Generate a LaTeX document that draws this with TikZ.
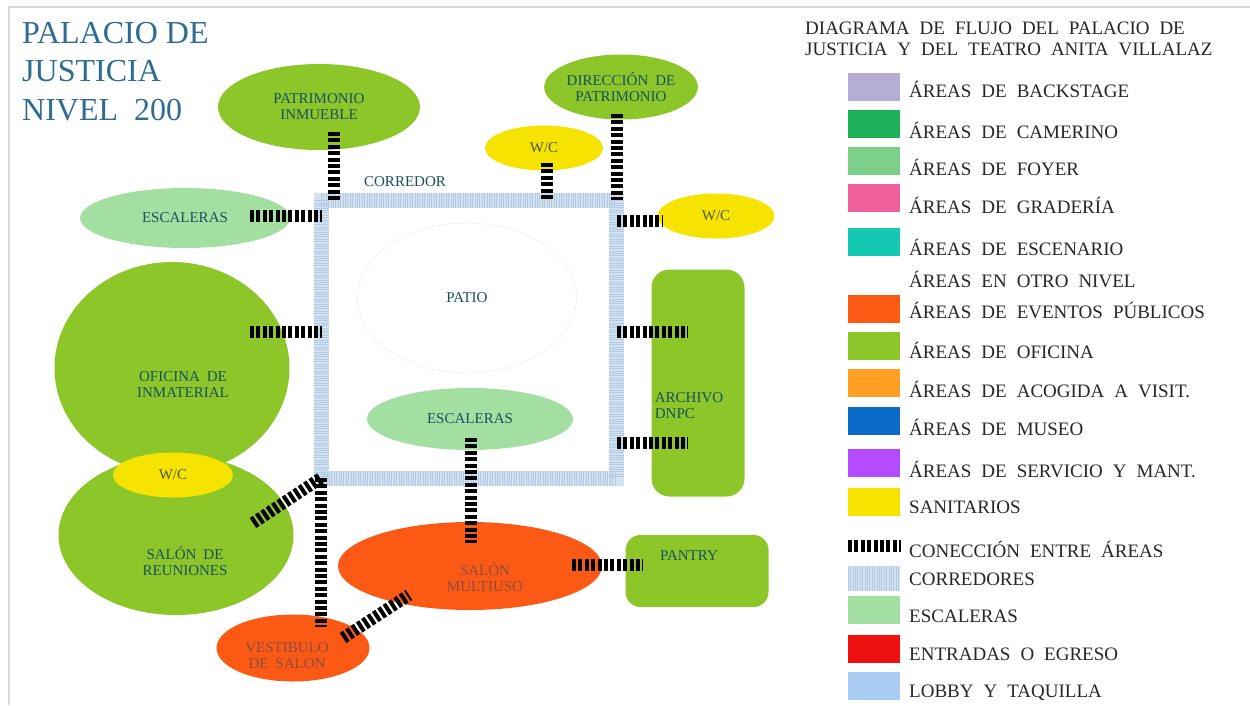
\documentclass[tikz,border=0pt]{standalone}
\usepackage{fontspec}
\setmainfont{Liberation Serif}
\usepackage{tikz}
\usetikzlibrary{shapes.geometric, positioning, calc}

\definecolor{oficina}{RGB}{141,198,40}
\definecolor{escalera}{RGB}{164,223,162}
\definecolor{sanitario}{RGB}{246,228,0}
\definecolor{evento}{RGB}{252,90,20}
\definecolor{corredor}{RGB}{210,226,240}
\definecolor{corredorln}{RGB}{178,202,226}
\definecolor{rotulo}{RGB}{24,80,96}
\definecolor{rotuloev}{RGB}{140,76,66}
\definecolor{rotulowc}{RGB}{80,88,50}
\definecolor{titulo}{RGB}{46,108,145}
\definecolor{backstage}{RGB}{181,173,214}
\definecolor{camerino}{RGB}{30,176,90}
\definecolor{foyer}{RGB}{125,208,138}
\definecolor{graderia}{RGB}{240,96,154}
\definecolor{escenario}{RGB}{20,200,180}
\definecolor{acogida}{RGB}{255,160,36}
\definecolor{museo}{RGB}{10,108,200}
\definecolor{servicio}{RGB}{180,75,255}
\definecolor{entrada}{RGB}{240,16,16}
\definecolor{lobby}{RGB}{168,204,242}

\begin{document}
\begin{tikzpicture}[
        x=1pt, y=-1pt,
        lbl/.style={font={\fontsize{15}{16}\selectfont\spaceskip=7pt\relax}, text=rotulo, align=center, inner sep=0pt},
        area/.style={ellipse, fill=oficina, inner sep=0pt, lbl},
        sala/.style={rectangle, fill=oficina, rounded corners=18pt, inner sep=0pt},
        link/.style={line width=12pt, dash pattern=on 4pt off 2.4pt, black},
        corr/.style={line width=15pt, draw=corredor},
        corrln/.style={line width=15pt, draw=corredorln, dash pattern=on 0.8pt off 1.6pt},
        swatch/.style={rectangle, minimum width=52pt, minimum height=28pt, inner sep=0pt},
        leyenda/.style={font={\fontsize{19}{20}\selectfont\spaceskip=10pt\relax}, text=black!85, inner sep=0pt, anchor=base west}
    ]

    \useasboundingbox (0,0) rectangle (1250,705);
    \draw[gray!30, line width=2pt] (9,705) -- (9,7) -- (1250,7);

    \node (titulo) [anchor=base west, align=left, inner sep=0pt, text=titulo, font=\fontsize{32}{38.5}\selectfont] at (22,120) {PALACIO DE\\JUSTICIA\\NIVEL \ 200};

    \coordinate (cNW) at (321,200);
    \coordinate (cNE) at (616,200);
    \coordinate (cSE) at (616,478);
    \coordinate (cSW) at (321,478);
    \draw[corr] (cNW) -- (cNE) -- (cSE) -- (cSW) -- cycle;
    \draw[corrln] (cNW) -- (cNE) -- (cSE) -- (cSW) -- cycle;
    \node (corrlbl) [lbl] at (405,182) {CORREDOR};

    \node (patinm) [area, minimum width=202pt, minimum height=86pt] at (319,107) {PATRIMONIO\\INMUEBLE};
    \node (dirpat) [area, minimum width=153pt, minimum height=65pt] at (621,87) {DIRECCIÓN DE\\PATRIMONIO};
    \node (wcsup) [area, fill=sanitario, text=rotulowc, minimum width=118pt, minimum height=45pt] at (544,148) {W/C};
    \node (wcder) [area, fill=sanitario, text=rotulowc, minimum width=117pt, minimum height=45pt] at (716,216) {W/C};
    \node (escizq) [area, fill=escalera, minimum width=210pt, minimum height=60pt] at (185,218) {ESCALERAS};
    \node (patio) [area, fill=white, draw=gray!18, minimum width=219pt, minimum height=150pt] at (467,298) {PATIO};
    \node (esccen) [area, fill=escalera, minimum width=206pt, minimum height=62pt] at (470,419) {ESCALERAS};

    \node (ofic) [area, minimum width=235pt, minimum height=212pt, label={[lbl, xshift=11pt, yshift=-17pt]center:OFICINA DE\\INMATERIAL}] at (172,368) {};
    \node (reun) [area, minimum width=235pt, minimum height=160pt, label={[lbl, xshift=9pt, yshift=-26pt]center:SALÓN DE\\REUNIONES}] at (176,535) {};
    \node (wcofi) [area, fill=sanitario, text=rotulowc, minimum width=120pt, minimum height=45pt] at (173,475) {W/C};

    \node (archivo) [sala, minimum width=93pt, minimum height=227pt, label={[lbl, align=left, xshift=-9pt, yshift=-23pt]center:ARCHIVO\\DNPC}] at (698,383) {};
    \node (pantry) [sala, rounded corners=15pt, minimum width=143pt, minimum height=72pt, label={[lbl, xshift=-8pt, yshift=15pt]center:PANTRY}] at (697,571) {};
    \node (multiuso) [area, fill=evento, minimum width=264pt, minimum height=88pt, label={[lbl, text=rotuloev, xshift=15pt, yshift=-11pt]center:SALÓN\\MULTIUSO}] at (470,566) {};
    \node (vestib) [area, fill=evento, minimum width=153pt, minimum height=67pt, label={[lbl, text=rotuloev, xshift=-6pt, yshift=-8pt]center:VESTIBULO\\DE SALON}] at (293,648) {};

    \coordinate (cInm) at (334,200);
    \coordinate (cEsc) at (322,216);
    \coordinate (cDir) at (617,200);
    \coordinate (cWcs) at (547,200);
    \coordinate (cWcd) at (617,221);
    \coordinate (cOfi) at (322,332);
    \coordinate (cArc1) at (617,332);
    \coordinate (cArc2) at (617,443);

    \draw[link] ($(patinm.center)+(15,25)$) -- (cInm);
    \draw[link] ($(escizq.center)+(65,-2)$) -- (cEsc);
    \draw[link] ($(dirpat.center)+(-4,27)$) -- (cDir);
    \draw[link] ($(wcsup.center)+(3,15)$) -- (cWcs);
    \draw[link] (cWcd) -- ($(wcder.center)+(-53,5)$);
    \draw[link] ($(ofic.center)+(78,-36)$) -- (cOfi);
    \draw[link] (cArc1) -- ($(archivo.center)+(-10,-51)$);
    \draw[link] (cArc2) -- ($(archivo.center)+(-10,60)$);
    \draw[link] ($(esccen.center)+(1,19)$) -- ($(multiuso.center)+(1,-23)$);
    \draw[link] ($(multiuso.center)+(102,-1)$) -- ($(pantry.center)+(-54,-6)$);
    \draw[link] ($(vestib.center)+(50,-10)$) -- ($(multiuso.center)+(-61,29)$);
    \draw[link] ($(reun.center)+(77,-12)$) -- (cSW);
    \draw[link] (cSW) -- ($(vestib.center)+(28,-21)$);

    \node (leytit) [leyenda, align=left, font={\fontsize{19}{20.5}\selectfont\spaceskip=10pt\relax}] at (805,55) {DIAGRAMA DE FLUJO DEL PALACIO DE\\JUSTICIA Y DEL TEATRO ANITA VILLALAZ};

    \foreach \ys/\yt/\col/\txt [count=\i] in {
        86.5/97/backstage/ÁREAS DE BACKSTAGE,
        124/138/camerino/ÁREAS DE CAMERINO,
        161/175/foyer/ÁREAS DE FOYER,
        198/213/graderia/ÁREAS DE GRADERÍA,
        242/255/escenario/ÁREAS DE ESCENARIO,
        272/287/white/ÁREAS EN OTRO NIVEL,
        309/318/evento/ÁREAS DE EVENTOS PÚBLICOS,
        346/358/oficina/ÁREAS DE OFICINA,
        382.5/397/acogida/ÁREAS DE ACOGIDA A VISIT.,
        421/435/museo/ÁREAS DE MUSEO,
        463/477/servicio/ÁREAS DE SERVICIO Y MANT.,
        502/513/sanitario/SANITARIOS,
        610/622/escalera/ESCALERAS,
        649/660/entrada/ENTRADAS O EGRESO,
        686/697/lobby/LOBBY Y TAQUILLA}
    {
        \node (sw\i) [swatch, fill=\col] at (874,\ys) {};
        \node (ley\i) [leyenda] at (909,\yt) {\txt};
    }

    \coordinate (lkA) at (848,546);
    \coordinate (lkB) at (901,546);
    \draw[link] (lkA) -- (lkB);
    \node (leylk) [leyenda] at (909,557) {CONECCIÓN ENTRE ÁREAS};

    \node (swcorr) [swatch, fill=corredor, minimum height=25pt] at (874,578) {};
    \draw[corrln, line width=25pt] (swcorr.west) -- (swcorr.east);
    \node (leycorr) [leyenda] at (909,585) {CORREDORES};

\end{tikzpicture}
\end{document}
